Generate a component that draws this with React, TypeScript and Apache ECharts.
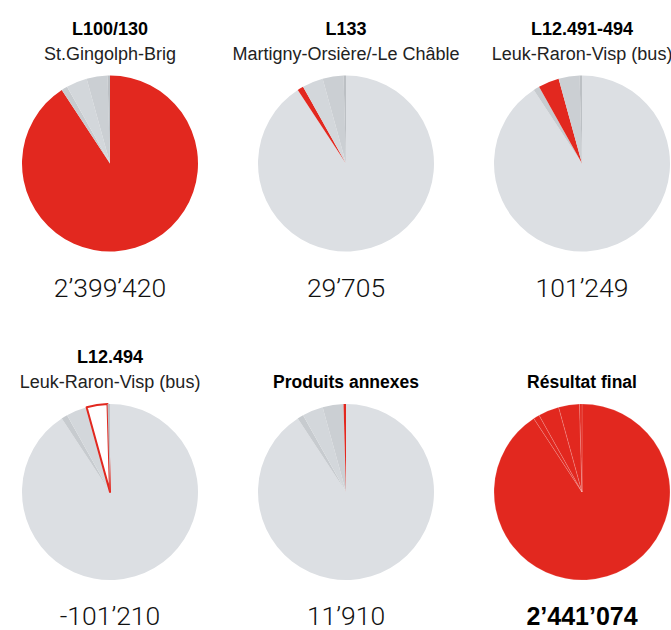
import React, { useEffect, useRef } from "react";
import * as echarts from "echarts";

const categories = ["L100/130", "L133", "L12.491-494", "L12.494", "Produits annexes"];
const subtitles = ["St.Gingolph-Brig", "Martigny-Orsière/-Le Châble", "Leuk-Raron-Visp (bus)", "Leuk-Raron-Visp (bus)", ""];
const values = [2399420, 29705, 101249, -101210, 11910];
const resultTitle = "Résultat final";
const resultValue = 2441074;

const RED = "#e2281f";
const grays = ["#dcdfe3", "#c7cbcf", "#d3d7db", "#cbcfd3", "#bcc0c4"];

const COLS = [110, 346, 582];
const ROWS = [163.5, 492];
const RADIUS = 88;
const FONT = "'Liberation Sans', Arial, sans-serif";
const NUMFONT = "Roboto, 'Liberation Sans', sans-serif";

function fmt(n: number): string {
  const s = Math.abs(n).toString();
  const parts: string[] = [];
  for (let i = s.length; i > 0; i -= 3) parts.unshift(s.slice(Math.max(0, i - 3), i));
  return (n < 0 ? "-" : "") + parts.join("’");
}

export default function App() {
  const ref = useRef<HTMLDivElement>(null);
  useEffect(() => {
    if (!ref.current) return;
    const chart = echarts.init(ref.current, null, { renderer: "svg" });
    const series: any[] = [];
    const graphic: any[] = [];
    const panels = 6;
    for (let p = 0; p < panels; p++) {
      const cx = COLS[p % 3];
      const cy = ROWS[Math.floor(p / 3)];
      const data = categories.map((c, i) => {
        let itemStyle: any;
        if (p === 5) {
          itemStyle = { color: RED, borderColor: "rgba(255,255,255,0.25)", borderWidth: 0.6 };
        } else if (i === p) {
          itemStyle = values[i] < 0
            ? { color: "#ffffff", borderColor: RED, borderWidth: 2 }
            : { color: RED, borderWidth: 0 };
        } else {
          itemStyle = { color: grays[i], borderWidth: 0 };
        }
        return { name: c, value: Math.abs(values[i]), itemStyle };
      });
      series.push({
        type: "pie",
        center: [cx, cy],
        radius: RADIUS,
        startAngle: 90,
        clockwise: true,
        silent: true,
        label: { show: false },
        labelLine: { show: false },
        emphasis: { disabled: true },
        data,
        z: p === 3 ? 2 : 1,
      });
      const rowOff = cy - ROWS[0];
      let title = "";
      let sub = "";
      let subBold = false;
      let num = "";
      let numBold = false;
      if (p < 5) {
        if (subtitles[p]) {
          title = categories[p];
          sub = subtitles[p];
        } else {
          sub = categories[p];
          subBold = true;
        }
        num = fmt(values[p]);
      } else {
        sub = resultTitle;
        subBold = true;
        num = fmt(resultValue);
        numBold = true;
      }
      if (title) {
        graphic.push({
          type: "text", x: cx, y: 28.5 + rowOff,
          style: { text: title, font: `bold 18px ${FONT}`, fill: "#000", textAlign: "center", textVerticalAlign: "middle" },
        });
      }
      graphic.push({
        type: "text", x: cx, y: 53.5 + rowOff,
        style: { text: sub, font: `${subBold ? "bold 17.5px" : "18px"} ${FONT}`, fill: subBold ? "#000" : "#222", textAlign: "center", textVerticalAlign: "middle" },
      });
      graphic.push({
        type: "text", x: cx, y: 287 + rowOff,
        style: {
          text: num,
          font: numBold ? `bold 25px ${FONT}` : `300 26.5px ${NUMFONT}`,
          fill: numBold ? "#000" : "#111",
          textAlign: "center", textVerticalAlign: "middle",
        },
      });
    }
    chart.setOption({
      animation: false,
      backgroundColor: "#ffffff",
      series,
      graphic,
    });
    return () => chart.dispose();
  }, []);
  return <div ref={ref} style={{ position: "absolute", left: 0, top: 0, width: 671, height: 630 }} />;
}
